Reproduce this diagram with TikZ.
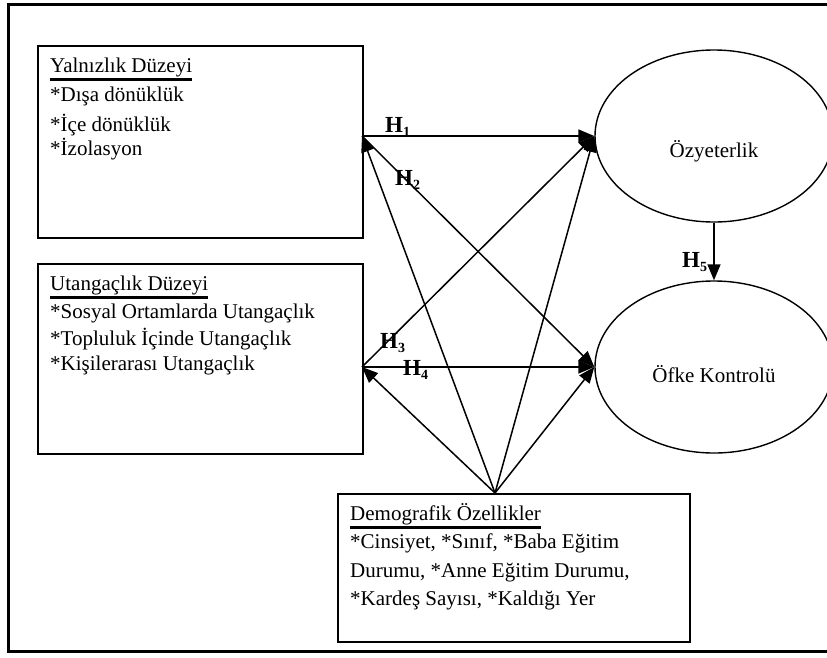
\documentclass[tikz,border=0pt]{standalone}
\usepackage{fontspec}
\setmainfont{Liberation Serif}
\usetikzlibrary{arrows.meta,shapes.geometric}
\begin{document}
\begin{tikzpicture}[x=1pt,y=-1pt,
  txt/.style={font=\fontsize{21}{27}\selectfont, inner sep=0pt, anchor=base west},
  ctxt/.style={font=\fontsize{21}{27}\selectfont, inner sep=0pt, anchor=base},
  boxnode/.style={draw, line width=1.6pt, inner sep=0pt, anchor=north west},
  ellnode/.style={draw, ellipse, line width=1.4pt, minimum width=238pt, minimum height=172pt, inner sep=0pt},
  conn/.style={line width=1.5pt, -{Triangle[length=16pt,width=13pt]}},
  uline/.style={line width=2.4pt},
  hlab/.style={font=\fontsize{23}{23}\selectfont\bfseries, inner sep=0pt, anchor=base west}]
\newcommand{\Hsub}[1]{H\raisebox{-4.5pt}{\fontsize{14}{14}\selectfont #1}}
\clip (0,0) rectangle (827,657);
\fill[white] (0,0) rectangle (827,657);
\draw[line width=3pt] (8.5,4.5) rectangle (850,651);

% boxes
\node[boxnode, minimum width=325pt, minimum height=192pt] (box1) at (37,45) {};
\node[boxnode, minimum width=325pt, minimum height=190pt] (box2) at (37,263) {};
\node[boxnode, minimum width=352pt, minimum height=148pt] (box3) at (337,493) {};

% ellipses
\node[ellnode] (e1) at (714,136) {};
\node[ellnode] (e2) at (714,367) {};
\node[ctxt] (e1t) at (714,157) {Özyeterlik};
\node[ctxt] (e2t) at (714,382) {Öfke Kontrolü};

% box 1 text
\node[txt] (a0) at (50,72) {Yalnızlık Düzeyi};
\draw[uline] ([yshift=-7.5pt]a0.base west) -- ([yshift=-7.5pt]a0.base east);
\node[txt] (a1) at (50,101) {*Dışa dönüklük};
\node[txt] (a2) at (50,131) {*İçe dönüklük};
\node[txt] (a3) at (50,155) {*İzolasyon};

% box 2 text
\node[txt] (b0) at (50,290) {Utangaçlık Düzeyi};
\draw[uline] ([yshift=-7.5pt]b0.base west) -- ([yshift=-7.5pt]b0.base east);
\node[txt] (b1) at (50,318) {*Sosyal Ortamlarda Utangaçlık};
\node[txt] (b2) at (50,345) {*Topluluk İçinde Utangaçlık};
\node[txt] (b3) at (50,370) {*Kişilerarası Utangaçlık};

% box 3 text
\node[txt] (c0) at (350,520) {Demografik Özellikler};
\draw[uline] ([yshift=-7.5pt]c0.base west) -- ([yshift=-7.5pt]c0.base east);
\node[txt] (c1) at (350,548) {*Cinsiyet, *Sınıf, *Baba Eğitim};
\node[txt] (c2) at (350,577) {Durumu, *Anne Eğitim Durumu,};
\node[txt] (c3) at (350,605) {*Kardeş Sayısı, *Kaldığı Yer};

% connector points
\coordinate (p1) at (362,136);
\coordinate (p2) at (362,367);
\coordinate (apex) at (495,493);

% connectors
\draw[conn] (p1) -- (e1.west);
\draw[conn] (p1) -- (e2.west);
\draw[conn] (p2) -- (e1.west);
\draw[conn] (p2) -- (e2.west);
\draw[conn] (apex) -- (p1);
\draw[conn] (apex) -- (p2);
\draw[conn] (apex) -- (e1.west);
\draw[conn] (apex) -- (e2.west);
\draw[conn] (e1.south) -- (e2.north);

% labels
\node[hlab] (h1) at (385,132) {\Hsub{1}};
\node[hlab] (h2) at (395,185) {\Hsub{2}};
\node[hlab] (h3) at (380,348) {\Hsub{3}};
\node[hlab] (h4) at (403,375) {\Hsub{4}};
\node[hlab] (h5) at (682,267) {\Hsub{5}};
\end{tikzpicture}
\end{document}
